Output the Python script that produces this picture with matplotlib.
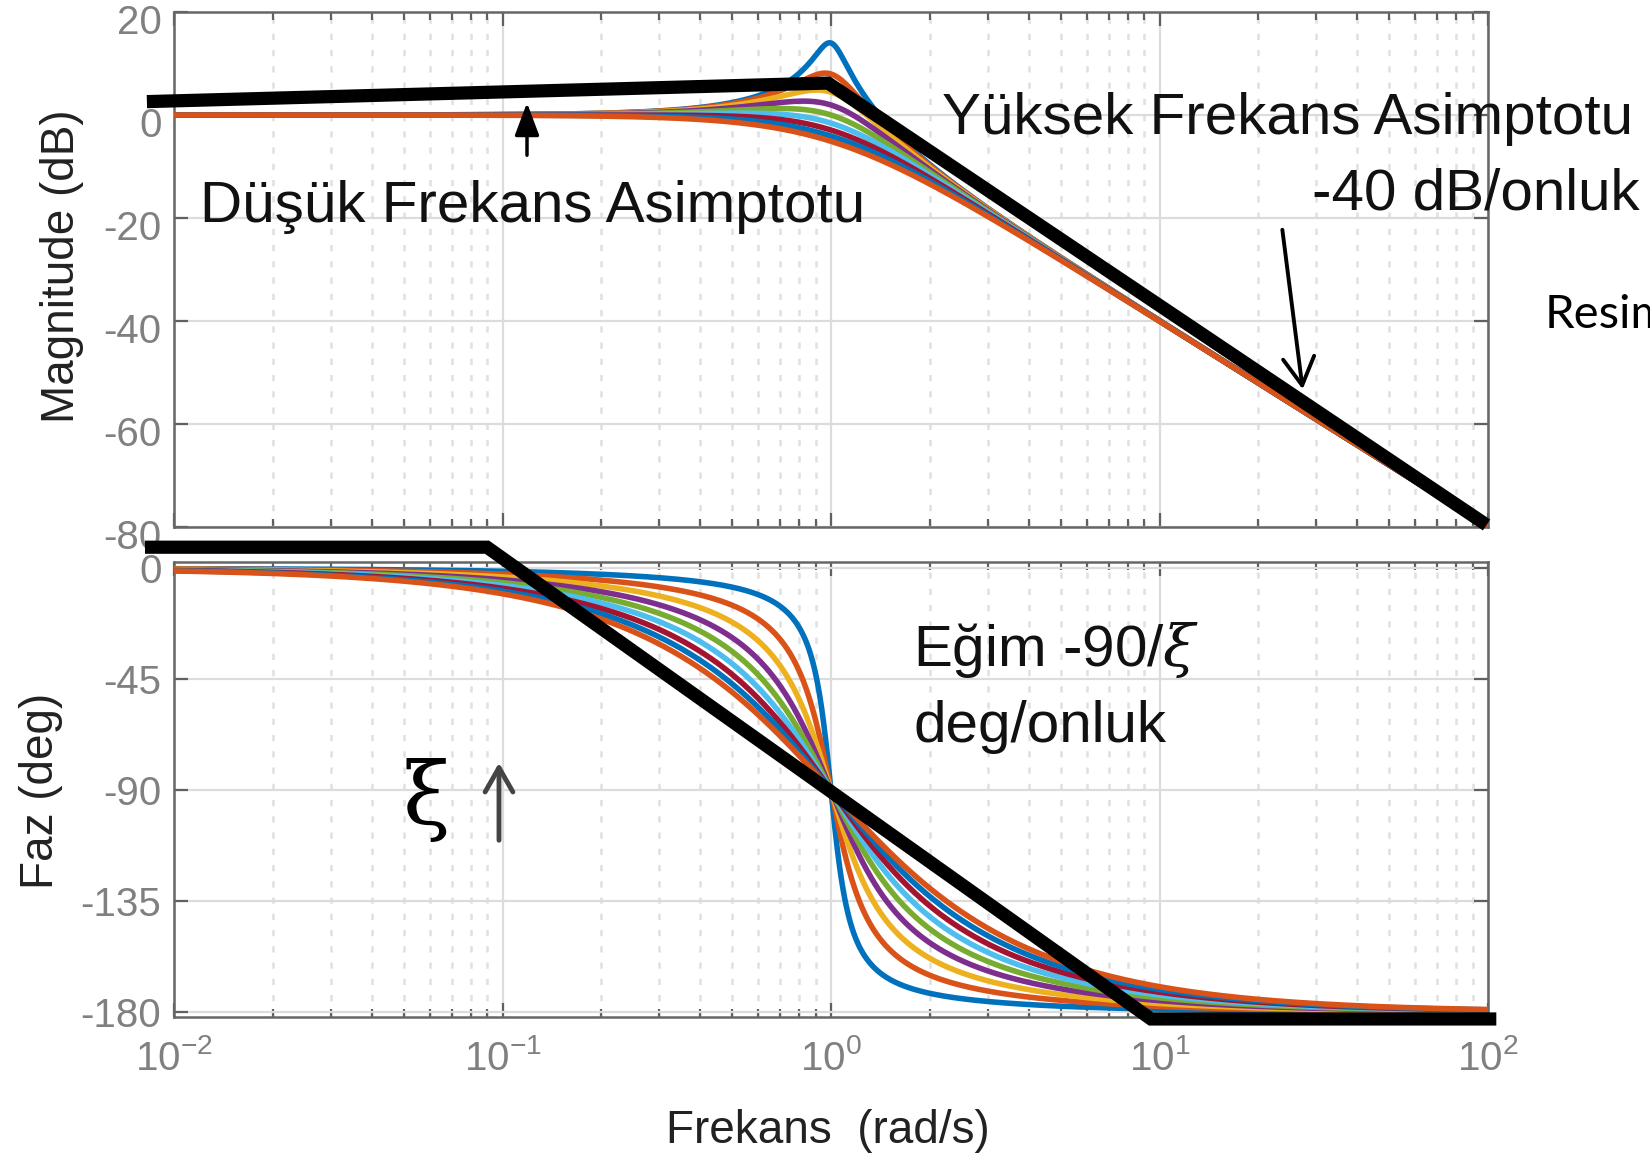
import numpy as np
import matplotlib
matplotlib.use('Agg')
import matplotlib.pyplot as plt
from matplotlib.ticker import LogLocator, NullLocator, FixedLocator
from matplotlib.patches import FancyArrowPatch
from matplotlib.transforms import ScaledTranslation

plt.rcParams['font.family'] = ['Liberation Sans', 'DejaVu Sans']
plt.rcParams['mathtext.fontset'] = 'custom'
plt.rcParams['mathtext.rm'] = 'Liberation Sans'
plt.rcParams['mathtext.it'] = 'DejaVu Serif:italic'

# ---------------- data ----------------
zeta = [0.1, 0.2, 0.3, 0.4, 0.5, 0.6, 0.7, 0.8, 0.9]
colors = ['#0072BD', '#D95319', '#EDB120', '#7E2F8E', '#77AC30',
          '#4DBEEE', '#A2142F', '#0072BD', '#D95319']
mag_ticks = [20, 0, -20, -40, -60, -80]
phase_ticks = [0, -45, -90, -135, -180]
freq_ticks = [1e-2, 1e-1, 1e0, 1e1, 1e2]
freq_labels = [r'$\mathregular{10^{-2}}$', r'$\mathregular{10^{-1}}$',
               r'$\mathregular{10^{0}}$', r'$\mathregular{10^{1}}$',
               r'$\mathregular{10^{2}}$']

# hand-drawn asymptotes
mag_asym_w = [0.00827, 0.98, 99.0]
mag_asym_db = [2.6, 6.2, -79.6]
phase_asym_w = [0.00816, 0.0897, 9.42, 106.0]
phase_asym_deg = [8.6, 8.6, -182.8, -182.8]

W, H = 1650, 1160
fig = plt.figure(figsize=(W / 100, H / 100), dpi=100)
fig.patch.set_facecolor('white')


def fx(x):
    return x / W


def fy(y):
    return 1 - y / H


ax1 = fig.add_axes([fx(174), fy(527), 1314 / W, 515 / H])
ax2 = fig.add_axes([fx(174), fy(1017), 1314 / W, 455 / H])

w = np.logspace(-2, 2, 3000)
for z, c in zip(zeta, colors):
    s = 1j * w
    Hs = 1.0 / (s ** 2 + 2 * z * s + 1)
    ax1.plot(w, 20 * np.log10(np.abs(Hs)), color=c, lw=4.0, zorder=3)
    ax2.plot(w, np.degrees(np.angle(Hs)), color=c, lw=4.0, zorder=3)

ax1.plot(mag_asym_w, mag_asym_db, color='black', lw=9.5, zorder=6,
         clip_on=False, solid_capstyle='butt', solid_joinstyle='miter')
ax2.plot(phase_asym_w, phase_asym_deg, color='black', lw=9.5, zorder=6,
         clip_on=False, solid_capstyle='butt', solid_joinstyle='miter')

for ax in (ax1, ax2):
    ax.set_xscale('log')
    ax.set_xlim(1e-2, 1e2)
    ax.xaxis.set_major_locator(FixedLocator(freq_ticks))
    ax.xaxis.set_minor_locator(LogLocator(base=10, subs=range(2, 10), numticks=20))
    ax.yaxis.set_minor_locator(NullLocator())
    ax.set_axisbelow(True)
    ax.grid(which='major', color='#dcdcdc', lw=1.6, ls='-')
    ax.grid(which='minor', axis='x', color='#e0e0e0', lw=1.8, ls=(0, (2.5, 4)))
    ax.tick_params(which='both', direction='in', top=True, right=True,
                   color='#606060', width=1.6)
    ax.tick_params(which='major', length=10, labelsize=29,
                   labelcolor='#808080', pad=9)
    ax.tick_params(which='minor', length=6)
    for sp in ax.spines.values():
        sp.set_color('#666666')
        sp.set_linewidth(1.8)

ax1.set_ylim(-80, 20)
ax1.set_yticks(mag_ticks)
ax1.set_yticklabels([str(v) for v in mag_ticks])
ax1.tick_params(labelbottom=False)

ax2.set_ylim(-182, 2.6)
ax2.set_yticks(phase_ticks)
ax2.set_yticklabels([str(v) for v in phase_ticks])
ax2.set_xticklabels(freq_labels)
ax2.tick_params(axis='x', which='major', pad=16)

# the reference's magnitude tick labels sit a few pixels below their ticks
shift = ScaledTranslation(0, -7 / 100, fig.dpi_scale_trans)
for t in ax1.yaxis.get_major_ticks():
    t.label1.set_transform(t.label1.get_transform() + shift)

# axis labels
fig.text(fx(62), fy(266), 'Magnitude (dB)', rotation=90, ha='center',
         va='center', fontsize=33, color='#222222')
fig.text(fx(41), fy(791), 'Faz (deg)', rotation=90, ha='center',
         va='center', fontsize=33, color='#222222')
fig.text(fx(828), fy(1131), 'Frekans  (rad/s)', ha='center', va='center',
         fontsize=33, color='#222222')

# annotations
fs = 42
fig.text(fx(200), fy(222), 'Düşük Frekans Asimptotu', fontsize=fs,
         color='#111111', va='baseline', ha='left')
fig.text(fx(942), fy(134), 'Yüksek Frekans Asimptotu', fontsize=fs,
         color='#111111', va='baseline', ha='left')
fig.text(fx(1640), fy(210), '-40 dB/onluk', fontsize=fs,
         color='#111111', va='baseline', ha='right')
fig.text(fx(1545), fy(328), 'Resim', fontsize=34, family=['Lato', 'DejaVu Sans'],
         color='black', va='baseline', ha='left')
fig.text(fx(913), fy(666), r'Eğim -90/$\it{\xi}$', fontsize=fs,
         color='#111111', va='baseline', ha='left')
fig.text(fx(913), fy(742), 'deg/onluk', fontsize=fs,
         color='#111111', va='baseline', ha='left')
fig.text(fx(426), fy(800), 'ξ', fontsize=62, family=['DejaVu Serif'],
         color='black', va='center', ha='center')

arr1 = FancyArrowPatch((fx(527), fy(158)), (fx(527), fy(100)),
                       transform=fig.transFigure, arrowstyle='-|>,head_length=0.8,head_width=0.3',
                       mutation_scale=25, lw=2.5, color='black', zorder=10)
fig.add_artist(arr1)
arr2 = FancyArrowPatch((fx(1282), fy(227)), (fx(1303), fy(392)),
                       transform=fig.transFigure, arrowstyle='->,head_length=0.8,head_width=0.45',
                       mutation_scale=25, lw=2.8, color='black', zorder=10)
fig.add_artist(arr2)
arr3 = FancyArrowPatch((fx(499), fy(843)), (fx(499), fy(760)),
                       transform=fig.transFigure, arrowstyle='->,head_length=0.7,head_width=0.4',
                       mutation_scale=25, lw=3.5, color='#444444', zorder=10)
fig.add_artist(arr3)

fig.savefig('out.png', dpi=100, facecolor='white')
